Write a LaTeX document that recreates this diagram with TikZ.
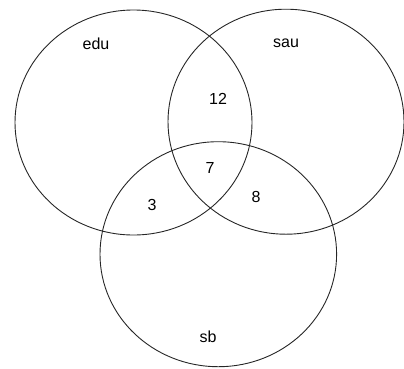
\documentclass[tikz,border=0pt]{standalone}
\usepackage{fontspec}
\setmainfont{Liberation Sans}
\begin{document}
\begin{tikzpicture}[x=1pt,y=-1pt,
  setc/.style={draw=black!85,line width=0.9pt},
  lbl/.style={font=\fontsize{16}{18}\selectfont,inner sep=0pt}]
\useasboundingbox (0,0) rectangle (404,368);
\draw[setc] (133.5,122.5) ellipse [x radius=118.5, y radius=112.5];
\draw[setc] (286,121.7) ellipse [x radius=118, y radius=112.5];
\draw[setc] (218.3,254.2) ellipse [x radius=118.3, y radius=112.5];
\node[lbl] (edu) at (96,44) {edu};
\node[lbl] (sau) at (286,43) {sau};
\node[lbl] (n12) at (218,99) {12};
\node[lbl] (n7) at (210,168) {7};
\node[lbl] (n3) at (152,205) {3};
\node[lbl] (n8) at (256,197) {8};
\node[lbl] (sb) at (208,337) {sb};
\end{tikzpicture}
\end{document}
